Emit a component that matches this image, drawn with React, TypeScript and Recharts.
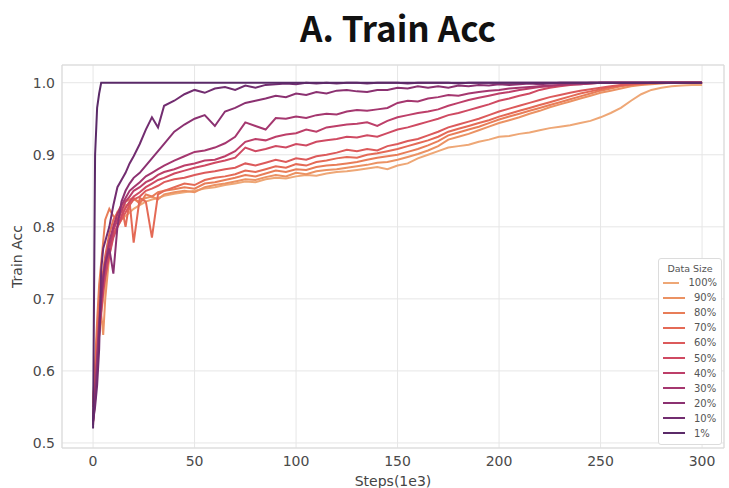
import { LineChart, Line, XAxis, YAxis, CartesianGrid, ReferenceArea, Label } from "recharts";

// steps in thousands
const steps = [
  0, 1, 2, 3, 4, 5, 6, 8, 10, 12,
  14, 16, 18, 20, 23, 26, 29, 32, 35, 40,
  45, 50, 55, 60, 65, 70, 75, 80, 85, 90,
  95, 100, 105, 110, 115, 120, 125, 130, 135, 140,
  145, 150, 155, 160, 165, 170, 175, 180, 185, 190,
  195, 200, 205, 210, 215, 220, 225, 230, 235, 240,
  245, 250, 255, 260, 265, 270, 275, 280, 285, 290,
  295, 300,
];

const acc100 = [
  0.56, 0.59, 0.62, 0.65, 0.68, 0.7, 0.72, 0.76, 0.79, 0.8,
  0.81, 0.815, 0.82, 0.825, 0.83, 0.835, 0.838, 0.84, 0.843, 0.846,
  0.848, 0.85, 0.853, 0.855, 0.858, 0.86, 0.863, 0.862, 0.866, 0.868,
  0.867, 0.87, 0.872, 0.871, 0.874, 0.876, 0.877, 0.879, 0.881, 0.883,
  0.88, 0.885, 0.888, 0.895, 0.9, 0.905, 0.91, 0.912, 0.914, 0.918,
  0.921, 0.925, 0.926, 0.929, 0.931, 0.934, 0.937, 0.939, 0.941, 0.944,
  0.947, 0.952, 0.958, 0.965, 0.975, 0.984, 0.99, 0.993, 0.995, 0.996,
  0.997, 0.997,
];
const acc90 = [
  0.56, 0.6, 0.63, 0.66, 0.68, 0.65, 0.7, 0.76, 0.8, 0.82,
  0.815, 0.83, 0.832, 0.838, 0.835, 0.84, 0.842, 0.838, 0.845, 0.848,
  0.85, 0.848, 0.855, 0.858, 0.86, 0.863, 0.866, 0.865, 0.869, 0.872,
  0.87, 0.875, 0.873, 0.877, 0.879, 0.88, 0.882, 0.884, 0.886, 0.889,
  0.89, 0.893, 0.897, 0.901, 0.906, 0.912, 0.921, 0.925, 0.929, 0.934,
  0.939, 0.944, 0.948, 0.952, 0.957, 0.961, 0.966, 0.97, 0.974, 0.978,
  0.982, 0.986, 0.989, 0.992, 0.995, 0.997, 0.998, 0.999, 1, 1,
  1, 1,
];
const acc80 = [
  0.555, 0.61, 0.67, 0.72, 0.75, 0.78, 0.81, 0.825, 0.815, 0.81,
  0.83, 0.835, 0.838, 0.84, 0.832, 0.845, 0.842, 0.848, 0.85, 0.852,
  0.855, 0.853, 0.86, 0.862, 0.865, 0.868, 0.872, 0.87, 0.874, 0.878,
  0.876, 0.88, 0.879, 0.883, 0.885, 0.886, 0.888, 0.89, 0.893, 0.896,
  0.898, 0.9, 0.904, 0.908, 0.913, 0.919, 0.927, 0.931, 0.935, 0.939,
  0.944, 0.949, 0.953, 0.957, 0.961, 0.965, 0.969, 0.973, 0.977, 0.981,
  0.985, 0.989, 0.992, 0.995, 0.997, 0.998, 0.999, 1, 1, 1,
  1, 1,
];
const acc70 = [
  0.55, 0.6, 0.65, 0.69, 0.72, 0.74, 0.76, 0.79, 0.81, 0.82,
  0.83, 0.8, 0.835, 0.778, 0.84, 0.835, 0.785, 0.845, 0.85, 0.855,
  0.86, 0.858, 0.865, 0.868, 0.87, 0.873, 0.878, 0.876, 0.88, 0.884,
  0.882, 0.887, 0.885, 0.89, 0.892, 0.895, 0.897, 0.896, 0.9, 0.902,
  0.905, 0.908, 0.912, 0.916, 0.92, 0.925, 0.932, 0.936, 0.94, 0.944,
  0.948, 0.953, 0.957, 0.961, 0.965, 0.969, 0.973, 0.977, 0.981, 0.985,
  0.988, 0.991, 0.994, 0.996, 0.998, 0.999, 1, 1, 1, 1,
  1, 1,
];
const acc60 = [
  0.54, 0.58, 0.62, 0.66, 0.69, 0.715, 0.735, 0.765, 0.79, 0.8,
  0.81, 0.82, 0.83, 0.838, 0.842, 0.85, 0.853, 0.857, 0.862, 0.866,
  0.868, 0.872, 0.875, 0.877, 0.88, 0.882, 0.888, 0.885, 0.889, 0.893,
  0.89, 0.895, 0.893, 0.898, 0.9, 0.903, 0.907, 0.905, 0.908, 0.906,
  0.912, 0.915, 0.919, 0.922, 0.927, 0.932, 0.938, 0.942, 0.946, 0.95,
  0.955, 0.96, 0.964, 0.968, 0.972, 0.976, 0.98, 0.983, 0.986, 0.989,
  0.991, 0.993, 0.995, 0.997, 0.998, 0.999, 1, 1, 1, 1,
  1, 1,
];
const acc50 = [
  0.535, 0.57, 0.615, 0.65, 0.68, 0.71, 0.73, 0.76, 0.785, 0.8,
  0.815, 0.826, 0.835, 0.842, 0.848, 0.855, 0.86, 0.865, 0.868, 0.874,
  0.878, 0.882, 0.885, 0.889, 0.892, 0.896, 0.91, 0.905, 0.908, 0.912,
  0.91, 0.915, 0.913, 0.918, 0.92, 0.922, 0.925, 0.924, 0.927, 0.925,
  0.93, 0.935, 0.938, 0.942, 0.946, 0.95, 0.955, 0.958, 0.962, 0.966,
  0.97, 0.975, 0.978, 0.982, 0.985, 0.99, 0.993, 0.995, 0.997, 0.998,
  0.999, 1, 1, 1, 1, 1, 1, 1, 1, 1,
  1, 1,
];
const acc40 = [
  0.53, 0.565, 0.61, 0.655, 0.69, 0.72, 0.74, 0.77, 0.795, 0.81,
  0.822, 0.835, 0.842, 0.85, 0.855, 0.862, 0.866, 0.872, 0.876, 0.88,
  0.885, 0.888, 0.892, 0.893, 0.898, 0.905, 0.918, 0.922, 0.92, 0.925,
  0.928, 0.93, 0.935, 0.932, 0.938, 0.94, 0.942, 0.943, 0.945, 0.94,
  0.947, 0.952, 0.955, 0.958, 0.96, 0.963, 0.968, 0.972, 0.976, 0.979,
  0.982, 0.985, 0.987, 0.99, 0.992, 0.994, 0.995, 0.997, 0.998, 0.999,
  1, 1, 1, 1, 1, 1, 1, 1, 1, 1,
  1, 1,
];
const acc30 = [
  0.525, 0.56, 0.62, 0.67, 0.705, 0.73, 0.75, 0.78, 0.8, 0.818,
  0.83, 0.84, 0.85, 0.855, 0.862, 0.87, 0.875, 0.88, 0.885, 0.892,
  0.898, 0.904, 0.906, 0.91, 0.916, 0.925, 0.945, 0.94, 0.935, 0.951,
  0.95, 0.953, 0.951, 0.955, 0.957, 0.956, 0.96, 0.962, 0.961, 0.963,
  0.965, 0.972, 0.975, 0.974, 0.978, 0.98, 0.983, 0.982, 0.985, 0.987,
  0.989, 0.99, 0.992, 0.993, 0.994, 0.995, 0.996, 0.997, 0.998, 0.998,
  0.999, 1, 1, 1, 1, 1, 1, 1, 1, 1,
  1, 1,
];
const acc20 = [
  0.53, 0.56, 0.6, 0.65, 0.7, 0.73, 0.75, 0.77, 0.735, 0.8,
  0.835, 0.85, 0.86, 0.868, 0.875, 0.885, 0.895, 0.905, 0.915, 0.932,
  0.942, 0.95, 0.955, 0.94, 0.96, 0.965, 0.972, 0.975, 0.978, 0.982,
  0.98, 0.985, 0.983, 0.987, 0.985, 0.989, 0.99, 0.988, 0.987, 0.99,
  0.99, 0.993, 0.992, 0.995, 0.993, 0.995, 0.993, 0.996, 0.995, 0.997,
  0.996, 0.998, 0.997, 0.998, 0.999, 0.998, 0.999, 1, 1, 1,
  1, 1, 1, 1, 1, 1, 1, 1, 1, 1,
  1, 1,
];
const acc10 = [
  0.53, 0.55, 0.58, 0.63, 0.74, 0.77, 0.78, 0.8, 0.83, 0.855,
  0.865, 0.875, 0.888, 0.898, 0.915, 0.935, 0.952, 0.938, 0.968, 0.975,
  0.984, 0.99, 0.986, 0.992, 0.994, 0.99, 0.996, 0.993, 0.997, 0.998,
  0.999, 0.998, 1, 0.999, 1, 0.999, 1, 1, 0.999, 1,
  1, 1, 0.999, 1, 1, 1, 1, 0.999, 1, 1,
  1, 1, 1, 1, 1, 1, 1, 1, 1, 1,
  1, 1, 1, 1, 1, 1, 1, 1, 1, 1,
  1, 1,
];
const acc1 = [
  0.52, 0.9, 0.965, 0.985, 1, 1, 1, 1, 1, 1,
  1, 1, 1, 1, 1, 1, 1, 1, 1, 1,
  1, 1, 1, 1, 1, 1, 1, 1, 1, 1,
  1, 1, 1, 1, 1, 1, 1, 1, 1, 1,
  1, 1, 1, 1, 1, 1, 1, 1, 1, 1,
  1, 1, 1, 1, 1, 1, 1, 1, 1, 1,
  1, 1, 1, 1, 1, 1, 1, 1, 1, 1,
  1, 1,
];

const sizes = ["100%", "90%", "80%", "70%", "60%", "50%", "40%", "30%", "20%", "10%", "1%"];
const colors = ["#eea776", "#eb9263", "#e87d58", "#e46a56", "#dc5a5b", "#cf4a62", "#bd3f69", "#a5376f", "#8b3171", "#722d70", "#5a2a68"];
const values = [acc100, acc90, acc80, acc70, acc60, acc50, acc40, acc30, acc20, acc10, acc1];

const xTicks = [0, 50, 100, 150, 200, 250, 300];
const yTicks = [0.5, 0.6, 0.7, 0.8, 0.9, 1.0];

const data = steps.map((s, i) => {
  const row: Record<string, number> = { step: s };
  sizes.forEach((k, j) => {
    row[k] = values[j][i];
  });
  return row;
});

const tickStyle = { fill: "#4a4a4a", fontSize: 14, fontFamily: "DejaVu Sans" };

function LegendBox() {
  return (
    <div
      style={{
        position: "absolute",
        left: 658,
        top: 258,
        width: 64,
        background: "#fff",
        border: "1px solid #dcdcdc",
        borderRadius: 3,
        fontFamily: "DejaVu Sans",
        color: "#555",
        padding: "3px 4px 3px 4px",
        boxSizing: "border-box",
      }}
    >
      <div style={{ fontSize: 9.5, lineHeight: "13px", height: 13, textAlign: "center" }}>Data Size</div>
      {sizes.map((s, i) => (
        <div key={s} style={{ display: "flex", alignItems: "center", height: 15.1, fontSize: 10, lineHeight: "15px" }}>
          <span style={{ display: "inline-block", width: 22, height: 2, background: colors[i], marginRight: 9 }} />
          <span>{s}</span>
        </div>
      ))}
    </div>
  );
}

export default function App() {
  return (
    <div style={{ position: "relative", width: 729, height: 488, background: "#fff" }}>
      <style>{"body{margin:0}"}</style>
      <div
        style={{
          position: "absolute",
          top: 4,
          left: 0,
          width: 796,
          textAlign: "center",
          fontFamily: "'Noto Sans CJK SC', 'Noto Sans', sans-serif",
          fontWeight: 700,
          fontSize: 35,
          color: "#111",
          lineHeight: "46px",
        }}
      >
        A. Train Acc
      </div>
      <LineChart width={729} height={488} data={data} margin={{ top: 65, right: 5, left: 0, bottom: 0 }}>
        <CartesianGrid stroke="#e6e6e6" strokeWidth={1} />
        <ReferenceArea x1={-15.3} x2={310.8} y1={0.493} y2={1.0246} fill="none" stroke="#d9d9d9" strokeWidth={1} />
        <XAxis
          dataKey="step"
          type="number"
          domain={[-15.3, 310.8]}
          ticks={xTicks}
          allowDataOverflow
          tickLine={false}
          axisLine={false}
          tickSize={0}
          tickMargin={8}
          height={40}
          tick={tickStyle}
        >
          <Label value="Steps(1e3)" position="insideBottom" offset={2} style={{ fill: "#444", fontSize: 14, fontFamily: "DejaVu Sans" }} />
        </XAxis>
        <YAxis
          type="number"
          domain={[0.493, 1.0246]}
          ticks={yTicks}
          allowDataOverflow
          tickLine={false}
          axisLine={false}
          tickSize={0}
          tickMargin={7}
          width={62}
          tick={tickStyle}
          tickFormatter={(v: number) => v.toFixed(1)}
        >
          <Label
            value="Train Acc"
            angle={-90}
            position="insideLeft"
            offset={17}
            style={{ fill: "#444", fontSize: 14, fontFamily: "DejaVu Sans", textAnchor: "middle" }}
          />
        </YAxis>
        {sizes.map((s, i) => (
          <Line
            key={s}
            dataKey={s}
            type="linear"
            stroke={colors[i]}
            strokeWidth={2}
            dot={false}
            isAnimationActive={false}
          />
        ))}
      </LineChart>
      <LegendBox />
    </div>
  );
}
